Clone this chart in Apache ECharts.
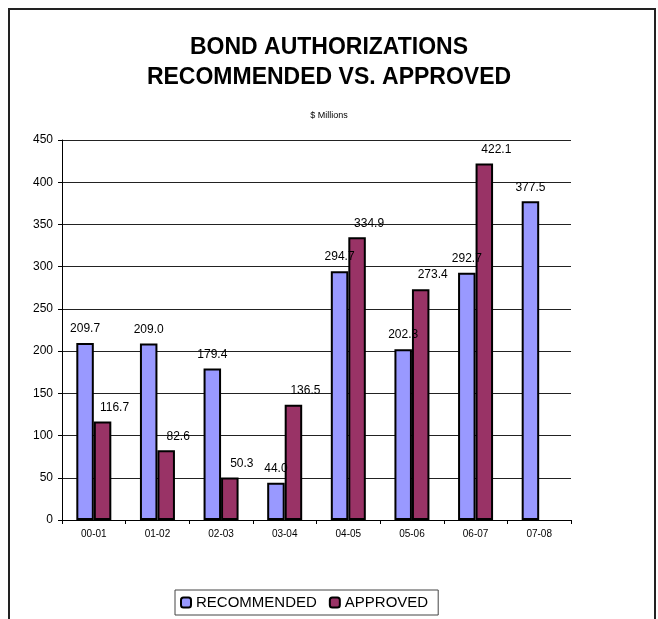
<!DOCTYPE html>
<html>
<head>
<meta charset="utf-8">
<script src="https://cdn.jsdelivr.net/npm/echarts@6/dist/echarts.min.js"></script>
<style>
html,body{margin:0;padding:0;background:#fff;}
#chart{width:658px;height:619px;}
</style>
</head>
<body>
<div id="chart"></div>
<script>
const categories = ['00-01','01-02','02-03','03-04','04-05','05-06','06-07','07-08'];
const recommended = [209.7, 209.0, 179.4, 44.0, 294.7, 202.3, 292.7, 377.5];
const approved = [116.7, 82.6, 50.3, 136.5, 334.9, 273.4, 422.1, null];
const seriesNames = ['RECOMMENDED', 'APPROVED'];
const titleLines = ['BOND AUTHORIZATIONS', 'RECOMMENDED VS. APPROVED'];
const subtitle = '$ Millions';

const FONT = '"Liberation Sans", Arial, sans-serif';
const chart = echarts.init(document.getElementById('chart'), null, {renderer: 'canvas'});

function labelCfg(offsetX) {
  return {
    show: true,
    position: 'top',
    distance: 8,
    offset: [offsetX, 0],
    color: '#000',
    fontSize: 12,
    fontFamily: FONT,
    formatter: p => (p.value == null ? '' : Number(p.value).toFixed(1))
  };
}

chart.setOption({
  animation: false,
  backgroundColor: '#fff',
  graphic: [{
    type: 'rect',
    shape: {x: 9, y: 9, width: 646, height: 640},
    style: {fill: 'none', stroke: '#222', lineWidth: 2},
    silent: true,
    z: -1
  }],
  title: [{
    text: titleLines.join('\n'),
    left: 'center',
    top: 28,
    textStyle: {fontSize: 23, fontWeight: 'bold', fontFamily: FONT, color: '#000', lineHeight: 30}
  }, {
    text: subtitle,
    left: 'center',
    top: 106,
    textStyle: {fontSize: 9, fontWeight: 'normal', fontFamily: FONT, color: '#000'}
  }],
  legend: {
    data: seriesNames,
    left: 175,
    top: 590,
    itemWidth: 10,
    itemHeight: 10,
    itemGap: 12,
    padding: [5, 10, 5, 5],
    borderColor: '#444',
    borderWidth: 1,
    textStyle: {fontSize: 15, fontFamily: FONT, color: '#000'}
  },
  grid: {left: 62, right: 87, top: 140, bottom: 99, containLabel: false},
  xAxis: {
    type: 'category',
    data: categories,
    boundaryGap: true,
    axisLine: {show: true, lineStyle: {color: '#000', width: 1}},
    axisTick: {show: true, alignWithLabel: false, length: 4, lineStyle: {color: '#000'}},
    axisLabel: {fontSize: 10, fontFamily: FONT, color: '#000', margin: 9},
    splitLine: {show: false}
  },
  yAxis: {
    type: 'value',
    min: 0,
    max: 450,
    interval: 50,
    axisLine: {show: true, lineStyle: {color: '#000', width: 1}},
    axisTick: {show: true, length: 4, lineStyle: {color: '#000'}},
    axisLabel: {fontSize: 12, fontFamily: FONT, color: '#000', margin: 9},
    splitLine: {show: true, lineStyle: {color: '#222', width: 1}}
  },
  series: [{
    name: seriesNames[0],
    type: 'bar',
    data: recommended,
    barWidth: 17.5,
    barGap: '0%',
    itemStyle: {color: '#9999FF', borderColor: '#000', borderWidth: 2},
    label: labelCfg(0)
  }, {
    name: seriesNames[1],
    type: 'bar',
    data: approved,
    barWidth: 17.5,
    barGap: '0%',
    itemStyle: {color: '#993366', borderColor: '#000', borderWidth: 2},
    label: labelCfg(12)
  }]
});
</script>
</body>
</html>
